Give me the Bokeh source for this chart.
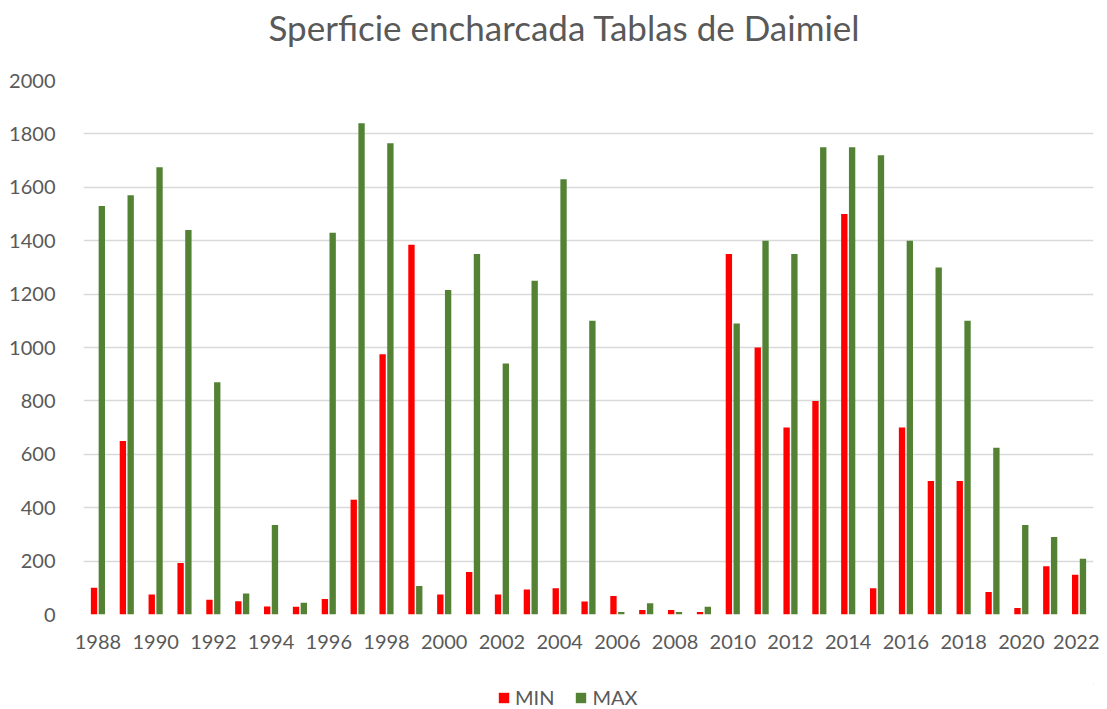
from bokeh.plotting import figure
from bokeh.layouts import column
from bokeh.models import ColumnDataSource, Legend, LegendItem, FixedTicker, Range1d, Title
from bokeh.transform import dodge
from bokeh.embed import file_html
from bokeh.resources import INLINE

years = list(range(1988, 2023))
min_vals = [100, 650, 75, 193, 55, 50, 30, 29, 58, 430, 975, 1385, 75, 159, 75, 94,
            98, 49, 69, 17, 17, 9, 1350, 1000, 700, 800, 1500, 98, 700, 500, 500, 84,
            24, 181, 149]
max_vals = [1530, 1570, 1675, 1440, 870, 79, 335, 44, 1430, 1840, 1765, 107, 1215, 1350,
            940, 1250, 1630, 1100, 9, 42, 9, 29, 1090, 1400, 1350, 1750, 1750, 1720,
            1400, 1300, 1100, 625, 335, 290, 209]
series_names = ["MIN", "MAX"]
series_colors = ["#FF0000", "#548235"]
y_ticks = [0, 200, 400, 600, 800, 1000, 1200, 1400, 1600, 1800, 2000]
x_ticks = list(range(1988, 2023, 2))
title_text = "Sperficie encharcada Tablas de Daimiel"

FONT = "Lato"
TXT = "#595959"
W = 1099

# --- title strip ---
p0 = figure(width=W, height=68, output_backend="svg", toolbar_location=None,
            x_axis_type=None, y_axis_type=None,
            min_border_left=83, min_border_right=6, min_border_top=0, min_border_bottom=0)
p0.outline_line_color = None
p0.xgrid.grid_line_color = None
p0.ygrid.grid_line_color = None
p0.add_layout(Title(text=title_text, align="left", vertical_align="bottom",
                    text_font=FONT, text_font_size="35px", text_font_style="normal",
                    text_color=TXT, offset=185, standoff=6), "above")

# --- main chart ---
src = ColumnDataSource(dict(year=years, mn=min_vals, mx=max_vals))
p = figure(width=W, height=615, output_backend="svg", toolbar_location=None,
           x_range=Range1d(1987.5, 2022.5), y_range=Range1d(0, 2000),
           min_border_left=83, min_border_right=6, min_border_top=12, min_border_bottom=69)
p.outline_line_color = None

p.vbar(x=dodge('year', -0.135, range=p.x_range), top='mn', width=0.22, source=src,
       fill_color=series_colors[0], line_color=None)
p.vbar(x=dodge('year', 0.135, range=p.x_range), top='mx', width=0.22, source=src,
       fill_color=series_colors[1], line_color=None)

p.yaxis.ticker = FixedTicker(ticks=y_ticks)
p.xaxis.ticker = FixedTicker(ticks=x_ticks)
for ax in (p.xaxis, p.yaxis):
    ax.axis_line_color = None
    ax.major_tick_line_color = None
    ax.minor_tick_line_color = None
    ax.major_label_text_font = FONT
    ax.major_label_text_font_size = "20px"
    ax.major_label_text_color = TXT
p.yaxis.major_label_standoff = 22
p.xaxis.major_label_standoff = 14

p.xgrid.grid_line_color = None
p.ygrid.grid_line_color = "#D9D9D9"
p.ygrid.grid_line_width = 1.3
p.ygrid.ticker = FixedTicker(ticks=y_ticks)

# --- legend strip ---
p2 = figure(width=W, height=26, output_backend="svg", toolbar_location=None,
            x_axis_type=None, y_axis_type=None, x_range=Range1d(0, 1), y_range=Range1d(0, 1),
            min_border_left=83, min_border_right=6, min_border_top=0, min_border_bottom=0)
p2.outline_line_color = None
p2.xgrid.grid_line_color = None
p2.ygrid.grid_line_color = None
items = []
for name, col in zip(series_names, series_colors):
    # placeholder renderer outside the visible range, only for the legend swatch
    r = p2.vbar(x=[5], top=[5], bottom=[4], width=0.1, fill_color=col, line_color=None)
    items.append(LegendItem(label=name, renderers=[r]))
legend = Legend(items=items, orientation="horizontal", location=(414, 0),
                label_text_font=FONT, label_text_font_size="20px", label_text_color=TXT,
                glyph_width=13, glyph_height=13, spacing=20, label_standoff=5,
                border_line_color=None, background_fill_alpha=0, margin=0, padding=0)
p2.add_layout(legend, "center")

layout = column(p0, p, p2, spacing=0)
open("out.html", "w").write(file_html(layout, INLINE))
